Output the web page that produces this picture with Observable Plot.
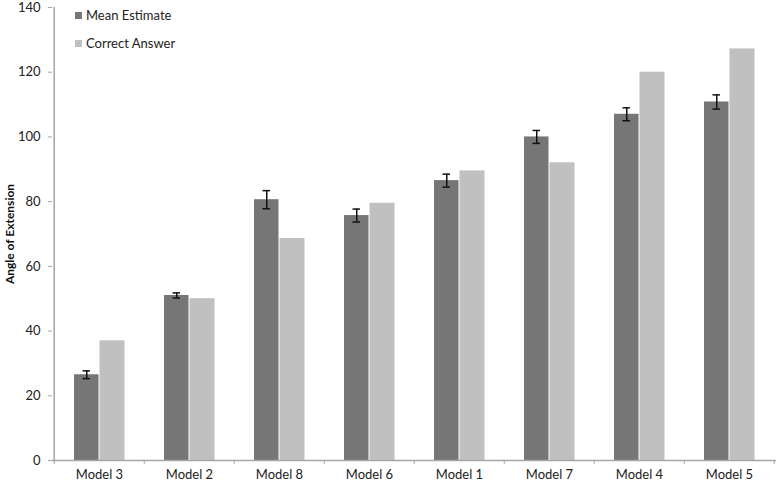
<!DOCTYPE html>
<html>
<head>
<meta charset="utf-8">
<script src="https://cdn.jsdelivr.net/npm/d3@7"></script>
<script src="https://cdn.jsdelivr.net/npm/@observablehq/plot@0.6"></script>
<style>
  html, body { margin: 0; padding: 0; background: #fff; }
  #wrap { position: relative; width: 778px; height: 485px; font-family: Lato, "Open Sans", sans-serif; }
  .legend { position: absolute; left: 75px; font-size: 13px; color: #222; display: flex; align-items: center; }
  .legend span.sw { display: inline-block; width: 7px; height: 7px; margin-right: 4px; }
</style>
</head>
<body>
<div id="wrap">
  <div class="legend" style="top:7px"><span class="sw" style="background:#767676"></span>Mean Estimate</div>
  <div class="legend" style="top:35px"><span class="sw" style="background:#c0c0c0"></span>Correct Answer</div>
</div>
<script>
const models = ["Model 3", "Model 2", "Model 8", "Model 6", "Model 1", "Model 7", "Model 4", "Model 5"];
const meanEstimate = [26.5, 51, 80.6, 75.7, 86.5, 100, 107, 110.8];
const correctAnswer = [37, 50, 68.6, 79.5, 89.5, 92, 120, 127.2];
const errors = [1.2, 0.8, 2.8, 2.0, 2.0, 2.0, 2.0, 2.2];
const yTicks = [0, 20, 40, 60, 80, 100, 120, 140];

const data = models.map((m, i) => ({model: m, mean: meanEstimate[i], correct: correctAnswer[i], err: errors[i]}));

const W = 778, ML = 52, MR = 2;
const bw = (W - ML - MR) / models.length;
const axisColor = "#a6a6a6";

const plot = Plot.plot({
  width: W,
  height: 485,
  marginLeft: ML,
  marginRight: MR,
  marginTop: 7,
  marginBottom: 25,
  style: {fontFamily: "Lato, 'Open Sans', sans-serif", fontSize: "13px", color: "#222", background: "#fff"},
  x: {domain: models, padding: 0},
  y: {domain: [0, 140]},
  marks: [
    Plot.barY(data, {x: "model", y: "mean", fill: "#767676", insetLeft: 20, insetRight: bw - 45}),
    Plot.barY(data, {x: "model", y: "correct", fill: "#c0c0c0", insetLeft: 45.5, insetRight: bw - 71}),
    Plot.ruleX(data, {x: "model", y1: d => d.mean - d.err, y2: d => d.mean + d.err, dx: 32.5 - bw / 2, stroke: "#111", strokeWidth: 1.5}),
    Plot.tickY(data, {x: "model", y: d => d.mean - d.err, insetLeft: 28.5, insetRight: bw - 36.5, stroke: "#111", strokeWidth: 1.5}),
    Plot.tickY(data, {x: "model", y: d => d.mean + d.err, insetLeft: 28.5, insetRight: bw - 36.5, stroke: "#111", strokeWidth: 1.5}),
    Plot.ruleX(models, {x: d => d, dx: -bw / 2, y1: 0, y2: -4 / 3.25, stroke: axisColor}),
    Plot.ruleX([models[models.length - 1]], {x: d => d, dx: bw / 2 - 0.5, y1: 0, y2: -4 / 3.25, stroke: axisColor}),
    Plot.ruleY([0], {stroke: axisColor, strokeWidth: 1.5}),
    Plot.ruleX([models[0]], {x: d => d, dx: -bw / 2, y1: 0, y2: 140, stroke: axisColor, strokeWidth: 1.5}),
    Plot.axisY({ticks: yTicks, tickSize: 4, tickPadding: 8, stroke: axisColor, label: "Angle of Extension", labelAnchor: "center", labelOffset: 47, fontSize: 13}),
    Plot.axisX({tickSize: 0, tickPadding: 9, label: null, fontSize: 13})
  ]
});
plot.style.position = "absolute";
plot.style.left = "0";
plot.style.top = "0";
const wrap = document.getElementById("wrap");
wrap.insertBefore(plot, wrap.firstChild);
// bold y-axis label, no arrow
plot.querySelectorAll("text").forEach(t => {
  if (t.textContent.startsWith("Angle of Extension") || t.textContent.endsWith("Angle of Extension")) {
    t.textContent = "Angle of Extension";
    t.style.fontWeight = "bold";
    t.style.fontSize = "12px";
    t.style.fill = "#111";
  }
});
</script>
</body>
</html>
